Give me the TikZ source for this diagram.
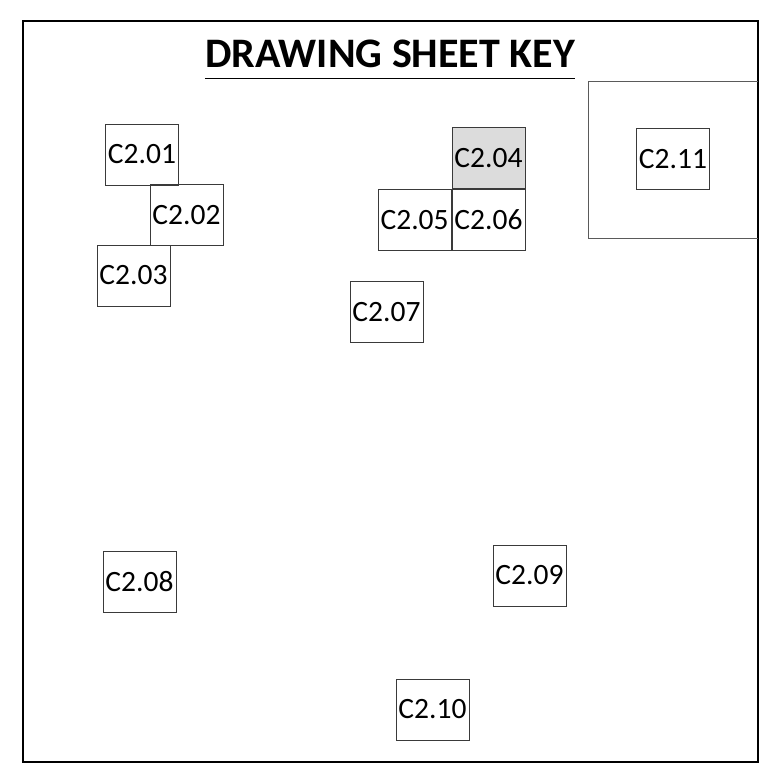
\documentclass[tikz,border=0pt]{standalone}
\usepackage{fontspec}
\setmainfont{Carlito}
\usepackage{xcolor}
\definecolor{cLine}{HTML}{3A3A3A}
\definecolor{cZone}{HTML}{5A5A5A}
\definecolor{cShade}{HTML}{DCDCDC}
\usepackage{tikz}
\usetikzlibrary{positioning}
\tikzset{
  sheet-box/.style={draw=cLine,line width=0.9pt,minimum width=73pt,
    minimum height=61pt,inner sep=0pt,font=\fontsize{29.5}{31}\selectfont},
  sheet-here/.style={fill=cShade},
  sheet-title/.style={inner sep=0pt,anchor=base,
    font=\fontsize{42}{46}\selectfont\bfseries},
  frame-line/.style={draw=black,line width=2pt},
  zone-line/.style={draw=cZone,line width=1pt},
}
\begin{document}
\begin{tikzpicture}[x=1pt,y=-1pt,node distance=0pt]
  \useasboundingbox (0,0) rectangle (762,763);
  \draw[frame-line] (22.5,21) rectangle (757.5,762);
  \node[sheet-title] (title) at (390,67) {DRAWING SHEET KEY};
  \draw[line width=1pt] ([yshift=-11pt]title.base west) -- ([yshift=-11pt]title.base east);
  % zone round C2.11, open towards the frame
  \draw[zone-line] (757.5,81) -| (588,238) -- (757.5,238);
  \node[sheet-box]                        (c201) at (142,154.5)   {C2.01};
  \node[sheet-box]                        (c202) at (186.5,215)   {C2.02};
  \node[sheet-box]                        (c203) at (133.5,275.5) {C2.03};
  \node[sheet-box]                        (c206) at (488.5,220)   {C2.06};
  \node[sheet-box,above=of c206,sheet-here] (c204) {C2.04};
  \node[sheet-box,left=of c206]           (c205) {C2.05};
  \node[sheet-box]                        (c207) at (386.5,312)   {C2.07};
  \node[sheet-box]                        (c208) at (139.5,581.5) {C2.08};
  \node[sheet-box]                        (c209) at (529.5,575.5) {C2.09};
  \node[sheet-box]                        (c210) at (432.5,709.5) {C2.10};
  \node[sheet-box]                        (c211) at (673,159)     {C2.11};
\end{tikzpicture}
\end{document}
